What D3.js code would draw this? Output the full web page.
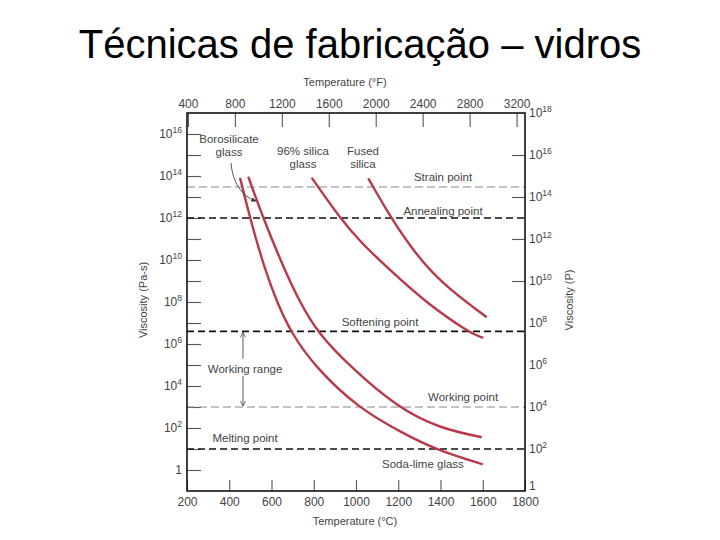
<!DOCTYPE html>
<html><head><meta charset="utf-8">
<script src="https://cdn.jsdelivr.net/npm/d3@7"></script>
<style>body{margin:0;background:#fff} svg{display:block} text{font-family:"Liberation Sans",Arial,sans-serif}</style>
</head><body><svg id="c" width="720" height="540"></svg>
<script>
// ---------- data ----------
const titleText = "Técnicas de fabricação – vidros";
const tempTicksC = [200,400,600,800,1000,1200,1400,1600,1800];
const tempTicksF = [400,800,1200,1600,2000,2400,2800,3200];
const paTickExps = [0,1,2,3,4,5,6,7,8,9,10,11,12,13,14,15,16];
const paLabelExps = [0,2,4,6,8,10,12,14,16];
const poiseLabelExps = [0,2,4,6,8,10,12,14,16,18];
const poiseTickExps = [10,12,14,16];

const refNames = ["Strain point","Annealing point","Softening point","Working point","Melting point"];
const refVisc = [3e13,1e12,4e6,1e3,1e1];
const refHeavy = [false,true,true,false,true];
const refLabelT = [1412,1412,1114,1507,475];

const glassNames = ["Soda-lime glass","Borosilicate glass","96% silica glass","Fused silica"];
const sodaLimeT = [451,498,569,628,692,805,1010,1222,1382,1600];
const sodaLimeLogV = [13.92,12.0,9.52,7.95,6.55,4.92,2.95,1.75,0.95,0.27];
const borosilicateT = [490,560,662,737,820,972,1199,1398,1595];
const borosilicateLogV = [13.97,12.0,9.52,7.94,6.52,4.92,2.95,1.98,1.56];
const silica96T = [790,924,1019,1161,1335,1540,1603];
const silica96LogV = [13.92,12.0,10.87,9.52,7.94,6.52,6.29];
const fusedSilicaT = [1058,1166,1275,1407,1619];
const fusedSilicaLogV = [13.89,11.99,10.38,8.86,7.27];

// ---------- layout ----------
const svg = d3.select("#c");
const L = 187, R = 525, T = 113, B = 491;
const x = d3.scaleLinear().domain([200,1800]).range([L,R]);
const xF = d3.scaleLinear().domain([392,3272]).range([L,R]);
const y = d3.scaleLog().domain([0.1,1e17]).range([B,T]);
const yP = d3.scaleLog().domain([1,1e18]).range([B,T]);
const red = "#b8394a", txt = "#444";

svg.append("text").attr("x",360).attr("y",58).attr("text-anchor","middle")
  .attr("font-size",40).attr("fill","#000").text(titleText);

// axes (ticks via d3 axes)
const gB = svg.append("g").attr("transform",`translate(0,${B})`)
  .call(d3.axisBottom(x).tickValues(tempTicksC).tickSize(-11).tickPadding(6).tickFormat(d3.format("d")));
const gT = svg.append("g").attr("transform",`translate(0,${T})`)
  .call(d3.axisTop(xF).tickValues(tempTicksF).tickSize(-14).tickPadding(5).tickFormat(d3.format("d")));
const gL = svg.append("g").attr("transform",`translate(${L},0)`)
  .call(d3.axisLeft(y).tickValues(paTickExps.map(e=>Math.pow(10,e))).tickSize(-14).tickFormat(""));
const gR = svg.append("g").attr("transform",`translate(${R},0)`)
  .call(d3.axisRight(yP).tickValues(poiseTickExps.map(e=>Math.pow(10,e))).tickSize(-13).tickFormat(""));
[gB,gT,gL,gR].forEach(g=>{
  g.select(".domain").remove();
  g.selectAll(".tick line").attr("stroke","#555").attr("stroke-width",1.1);
  g.selectAll(".tick text").attr("fill",txt).attr("font-size",12).attr("font-family","Liberation Sans, Arial, sans-serif");
});

// superscript labels
function powLabel(g, xx, yy, e, anchor){
  const t = g.append("text").attr("x",xx).attr("y",yy).attr("text-anchor",anchor)
    .attr("font-size",12).attr("fill",txt);
  if(e===0){ t.text("1"); return; }
  t.append("tspan").text("10");
  t.append("tspan").attr("font-size",8.5).attr("dy",-5).text(e);
}
const lab = svg.append("g");
paLabelExps.forEach(e=>powLabel(lab, 182, y(Math.pow(10,e))+4, e, "end"));
poiseLabelExps.forEach(e=>powLabel(lab, 529, yP(Math.pow(10,e))+(e===0?-1:4), e, "start"));

// axis titles
svg.append("text").attr("x",345).attr("y",86).attr("text-anchor","middle").attr("font-size",11).attr("fill",txt).text("Temperature (°F)");
svg.append("text").attr("x",355).attr("y",525).attr("text-anchor","middle").attr("font-size",11).attr("fill",txt).text("Temperature (°C)");
svg.append("text").attr("transform","translate(147,300) rotate(-90)").attr("text-anchor","middle").attr("font-size",11).attr("fill",txt).text("Viscosity (Pa-s)");
svg.append("text").attr("transform","translate(573,300) rotate(-90)").attr("text-anchor","middle").attr("font-size",11).attr("fill",txt).text("Viscosity (P)");

// reference lines
refNames.forEach((n,i)=>{
  const yy = y(refVisc[i]);
  svg.append("line").attr("x1",L).attr("x2",R).attr("y1",yy).attr("y2",yy)
    .attr("stroke",refHeavy[i]?"#111":"#888").attr("stroke-width",refHeavy[i]?1.7:1)
    .attr("stroke-dasharray",refHeavy[i]?"7,4":"8,4");
});
const refOff = [-6,-3,-5,-6,-7];
refNames.forEach((n,i)=>{
  svg.append("text").attr("x",x(refLabelT[i])).attr("y",y(refVisc[i])+refOff[i])
    .attr("text-anchor","middle").attr("font-size",11.5).attr("fill",txt).text(n);
});

// working range arrow
const defs = svg.append("defs");
defs.append("marker").attr("id","oa").attr("viewBox","0 0 10 10").attr("refX",9).attr("refY",5)
  .attr("markerWidth",7).attr("markerHeight",7).attr("orient","auto-start-reverse")
  .append("path").attr("d","M1,1 L9,5 L1,9").attr("fill","none").attr("stroke","#444").attr("stroke-width",1.2);
defs.append("marker").attr("id","fa").attr("viewBox","0 0 10 10").attr("refX",9).attr("refY",5)
  .attr("markerWidth",6).attr("markerHeight",6).attr("orient","auto")
  .append("path").attr("d","M0,1 L10,5 L0,9 Z").attr("fill","#333");
const wx = x(465);
svg.append("line").attr("x1",wx).attr("x2",wx).attr("y1",y(4e6)+1).attr("y2",y(2e5))
  .attr("stroke","#444").attr("stroke-width",0.9).attr("marker-start","url(#oa)");
svg.append("line").attr("x1",wx).attr("x2",wx).attr("y1",y(3e4)).attr("y2",y(1e3)-1)
  .attr("stroke","#444").attr("stroke-width",0.9).attr("marker-end","url(#oa)");
svg.append("text").attr("x",x(475)).attr("y",y(Math.pow(10,4.8))+4).attr("text-anchor","middle")
  .attr("font-size",11.5).attr("fill",txt).text("Working range");

// curves
const line = d3.line().x(d=>x(d[0])).y(d=>y(Math.pow(10,d[1]))).curve(d3.curveBasis);
[[sodaLimeT,sodaLimeLogV],[borosilicateT,borosilicateLogV],[silica96T,silica96LogV],[fusedSilicaT,fusedSilicaLogV]]
 .forEach(([ts,vs])=>{
  svg.append("path").datum(ts.map((t,i)=>[t,vs[i]])).attr("d",line)
    .attr("fill","none").attr("stroke",red).attr("stroke-width",2.4).attr("stroke-linecap","butt");
 });

// curve labels
function ml(lines, t, logv){
  const tx = svg.append("text").attr("x",x(t)).attr("y",y(Math.pow(10,logv))).attr("text-anchor","middle")
    .attr("font-size",11.5).attr("fill",txt);
  lines.forEach((s,i)=>tx.append("tspan").attr("x",x(t)).attr("dy",i?13:0).text(s));
}
ml(["Borosilicate","glass"], 399, 15.55);
ml(["96% silica","glass"], 749, 15.0);
ml(["Fused","silica"], 1033, 15.0);
ml(["Soda-lime glass"], 1317, 0.1);

// borosilicate pointer
const p0 = [x(408), y(Math.pow(10,14.62))], p1 = [x(527), y(Math.pow(10,12.8))];
svg.append("path").attr("d",`M${p0[0]},${p0[1]} Q${p0[0]+3},${p1[1]-8} ${p1[0]},${p1[1]}`)
  .attr("fill","none").attr("stroke","#444").attr("stroke-width",0.9).attr("marker-end","url(#fa)");

// frame
svg.append("rect").attr("x",L).attr("y",T).attr("width",R-L).attr("height",B-T)
  .attr("fill","none").attr("stroke","#111").attr("stroke-width",1.6);
</script></body></html>
